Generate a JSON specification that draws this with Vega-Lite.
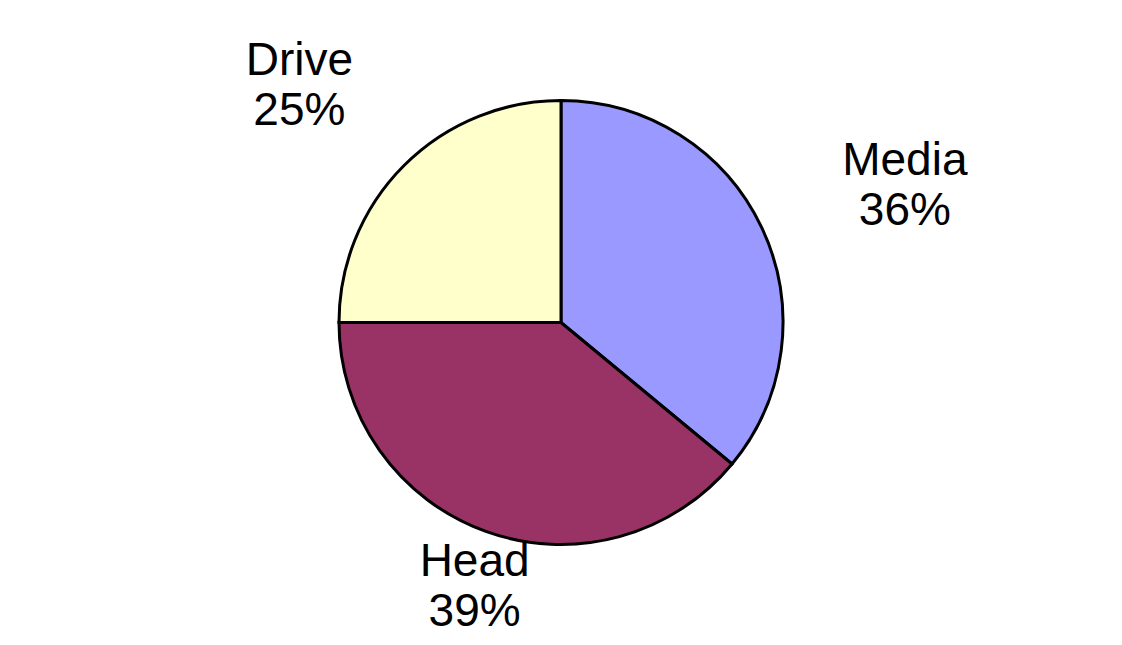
{
  "$schema": "https://vega.github.io/schema/vega-lite/v6.json",
  "width": 1122,
  "height": 645,
  "autosize": {"type": "fit", "contains": "padding"},
  "background": "white",
  "data": {
    "values": [
      {"category": "Media", "value": 36, "rank": 1, "label": "Media\n36%"},
      {"category": "Head", "value": 39, "rank": 2, "label": "Head\n39%"},
      {"category": "Drive", "value": 25, "rank": 3, "label": "Drive\n25%"}
    ]
  },
  "transform": [
    {"stack": "value", "groupby": [], "sort": [{"field": "rank", "order": "ascending"}], "as": ["v0", "v1"]},
    {"calculate": "(datum.v0 + datum.v1) / 2", "as": "mid"}
  ],
  "layer": [
    {
      "mark": {"type": "arc", "outerRadius": 222, "stroke": "black", "strokeWidth": 3},
      "encoding": {
        "theta": {"field": "v0", "type": "quantitative", "stack": null, "scale": {"domain": [0, 100]}},
        "theta2": {"field": "v1"},
        "color": {
          "field": "category",
          "type": "nominal",
          "scale": {"domain": ["Media", "Head", "Drive"], "range": ["#9999FF", "#993366", "#FFFFCC"]},
          "legend": null
        }
      }
    },
    {
      "transform": [{"filter": "datum.category === 'Drive'"}],
      "mark": {"type": "text", "radius": 370, "font": "Liberation Sans", "fontSize": 46, "lineBreak": "\n", "lineHeight": 50, "color": "black"},
      "encoding": {
        "theta": {"field": "mid", "type": "quantitative", "stack": null, "scale": {"domain": [0, 100]}},
        "text": {"field": "label", "type": "nominal"}
      }
    },
    {
      "transform": [{"filter": "datum.category === 'Media'"}],
      "mark": {"type": "text", "radius": 380, "font": "Liberation Sans", "fontSize": 46, "lineBreak": "\n", "lineHeight": 50, "color": "black"},
      "encoding": {
        "theta": {"field": "mid", "type": "quantitative", "stack": null, "scale": {"domain": [0, 100]}},
        "text": {"field": "label", "type": "nominal"}
      }
    },
    {
      "transform": [{"filter": "datum.category === 'Head'"}],
      "mark": {"type": "text", "radius": 255, "font": "Liberation Sans", "fontSize": 46, "lineBreak": "\n", "lineHeight": 50, "color": "black"},
      "encoding": {
        "theta": {"field": "mid", "type": "quantitative", "stack": null, "scale": {"domain": [0, 100]}},
        "text": {"field": "label", "type": "nominal"}
      }
    }
  ]
}
